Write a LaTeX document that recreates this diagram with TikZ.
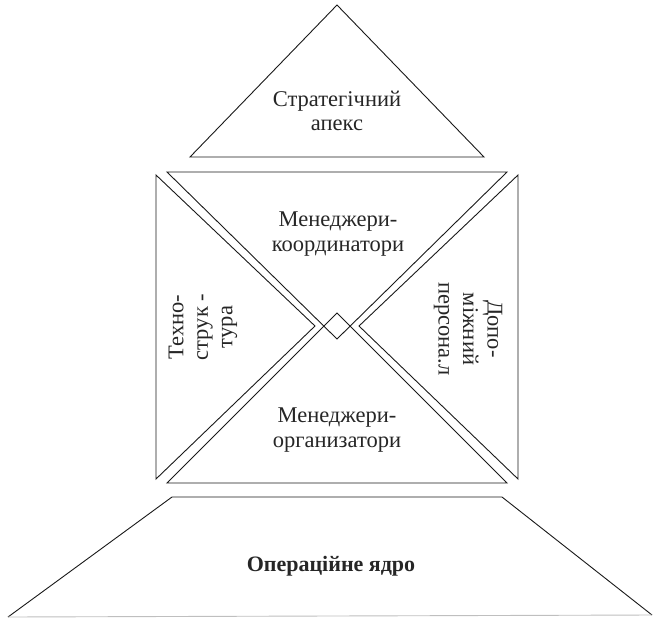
\documentclass[tikz,border=0pt]{standalone}
\usepackage{fontspec}
\setmainfont{Liberation Serif}
\begin{document}
\begin{tikzpicture}[x=1pt,y=-1pt,
  outl/.style={draw=black!90,line width=0.9pt,line join=miter},
  lbl/.style={font=\fontsize{22.5}{24.5}\selectfont,text=black!85,align=center,inner sep=0pt}]
\useasboundingbox (0,0) rectangle (656,619);
% Strategic apex
\draw[outl] (337,5) coordinate (apT) -- (484,157) coordinate (apR) -- (190,157) coordinate (apL) -- cycle;
\node[lbl] (apex) at (337,111) {Стратегічний\\апекс};
% top triangle (managers-coordinators)
\draw[outl] (167,172) coordinate (tL) -- (507,172) coordinate (tR) -- (337,339) coordinate (tA) -- cycle;
\node[lbl] (coord) at (338,234) {Менеджери-\\координатори};
% bottom triangle (managers-organizers)
\draw[outl] (167,483) coordinate (bL) -- (507,483) coordinate (bR) -- (337,313) coordinate (bA) -- cycle;
\node[lbl] (org) at (337,430) {Менеджери-\\организатори};
% left triangle (technostructure)
\draw[outl] (156,175) coordinate (lT) -- (315,326) coordinate (lA) -- (156,479) coordinate (lB) -- cycle;
\node[lbl,rotate=90] (tech) at (203,327) {Техно-\\струк -\\тура};
% right triangle (support staff)
\draw[outl] (518,175) coordinate (rT) -- (359,326) coordinate (rA) -- (518,479) coordinate (rB) -- cycle;
\node[lbl,rotate=-90] (supp) at (468,329) {Допо-\\міжний\\персона.л};
% operating core
\draw[outl] (8,617) coordinate (cBL) -- (172,497) coordinate (cTL) -- (502,497) coordinate (cTR) -- (652,615) coordinate (cBR);
\draw[black!25,line width=0.9pt] (cBR) -- (cBL);
\node[lbl,font=\fontsize{22}{24}\selectfont\bfseries] (core) at (331,566) {Операційне ядро};
\end{tikzpicture}
\end{document}
